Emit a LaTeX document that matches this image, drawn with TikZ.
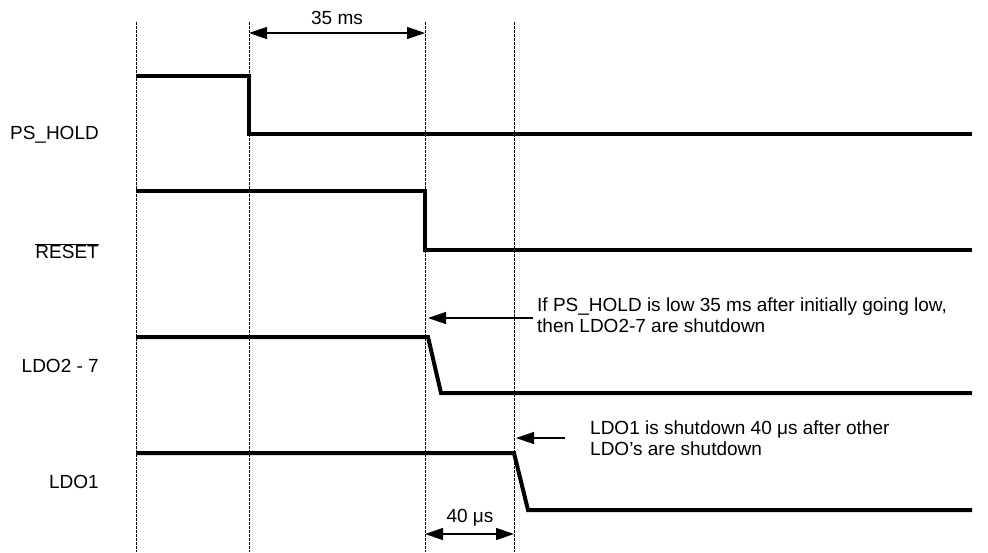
\documentclass[tikz,border=0pt]{standalone}
\usepackage{fontspec}
\setmainfont{Liberation Sans}
\usetikzlibrary{arrows.meta}
\begin{document}
\begin{tikzpicture}[x=1pt,y=-1pt,
  sig/.style={line width=4pt, line join=miter},
  vgrid/.style={line width=1pt, dash pattern=on 2.5pt off 1.5pt},
  dimarrow/.style={{Triangle[length=18pt,width=12pt]}-{Triangle[length=18pt,width=12pt]}, line width=1.3pt},
  notearrow/.style={-{Triangle[length=18pt,width=12pt]}, line width=1.3pt},
  lab/.style={font=\fontsize{19}{21}\selectfont, inner sep=0pt},
  note/.style={font=\fontsize{19}{21}\selectfont, inner sep=0pt, align=left, anchor=west}]
\useasboundingbox (0,0) rectangle (988,552);
% vertical reference lines
\coordinate (t1) at (136,22); \coordinate (b1) at (136,552);
\coordinate (t2) at (249,22); \coordinate (b2) at (249,552);
\coordinate (t3) at (425,22); \coordinate (b3) at (425,552);
\coordinate (t4) at (514,22); \coordinate (b4) at (514,552);
\draw[vgrid] (t1) -- (b1);
\draw[vgrid] (t2) -- (b2);
\draw[vgrid] (t3) -- (b3);
\draw[vgrid] (t4) -- (b4);
% signals
\draw[sig] (136,76) -- (249,76) -- (249,134) -- (972,134);
\draw[sig] (136,191) -- (425,191) -- (425,250) -- (972,250);
\draw[sig] (136,337) -- (428,337) -- (441,393) -- (972,393);
\draw[sig] (136,453) -- (514,453) -- (528,510) -- (972,510);
% labels
\node[lab, anchor=east] (ps) at (99,135) {PS\_HOLD};
\node[lab, anchor=east] (rst) at (99,251) {$\overline{\mbox{RESET}}$};
\node[lab, anchor=east] (ldo27) at (99,366) {LDO2 - 7};
\node[lab, anchor=east] (ldo1) at (99,482) {LDO1};
% dimension arrows
\coordinate (d1a) at (249,33); \coordinate (d1b) at (425,33);
\draw[dimarrow] (d1a) -- (d1b);
\node[lab] (ms) at (337,18) {35 ms};
\coordinate (d2a) at (425,534); \coordinate (d2b) at (514,534);
\draw[dimarrow] (d2a) -- (d2b);
\node[lab] (us) at (470,518) {40 μs};
% notes
\node[note] (n1) at (537,315) {If PS\_HOLD is low 35 ms after initially going low,\\then LDO2-7 are shutdown};
\coordinate (n1a) at (533,318); \coordinate (n1b) at (428,318);
\draw[notearrow] (n1a) -- (n1b);
\node[note] (n2) at (590,438) {LDO1 is shutdown 40 μs after other\\LDO's are shutdown};
\coordinate (n2a) at (565,438); \coordinate (n2b) at (516,438);
\draw[notearrow] (n2a) -- (n2b);
\end{tikzpicture}
\end{document}
